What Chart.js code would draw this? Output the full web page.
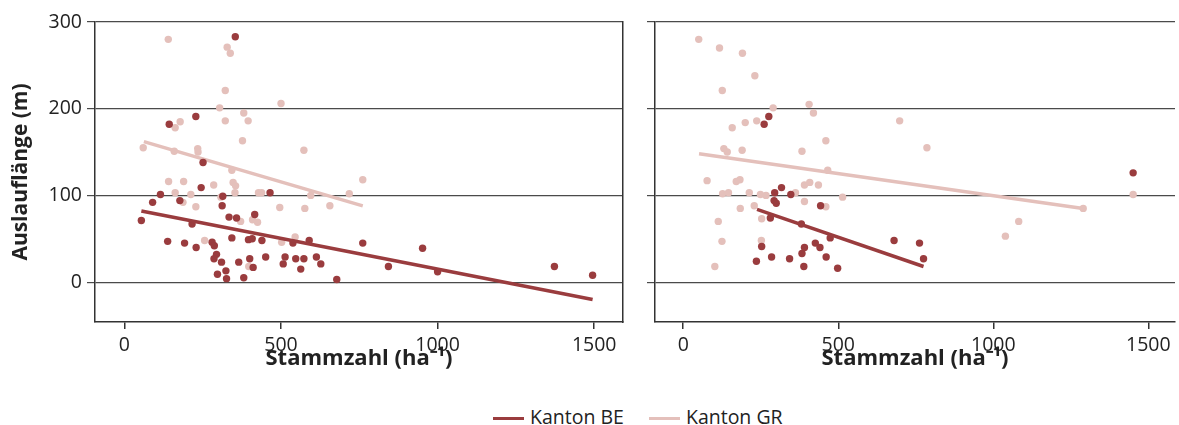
<!DOCTYPE html>
<html>
<head>
<meta charset="utf-8">
<script src="https://cdn.jsdelivr.net/npm/chart.js@4.4.1/dist/chart.umd.min.js"></script>
<style>
  body { margin: 0; background: #fff; font-family: "Open Sans", sans-serif; }
  #wrap { position: relative; width: 1179px; height: 425px; overflow: hidden; }
  #leftBox { position: absolute; left: 0; top: 0; width: 627px; height: 372px; }
  #rightBox { position: absolute; left: 630px; top: 0; width: 549px; height: 372px; }
  #legend { position: absolute; left: 493px; top: 403px; font-size: 19.5px; color: #222; white-space: nowrap; }
  #legend span.sw { display: inline-block; width: 31px; height: 3px; vertical-align: middle; margin-right: 6px; }
  #legend span.item { margin-right: 20px; }
</style>
</head>
<body>
<div id="wrap">
  <div id="leftBox"><canvas id="leftChart"></canvas></div>
  <div id="rightBox"><canvas id="rightChart"></canvas></div>
  <div id="legend">
    <span class="item"><span class="sw" style="background:#9a3c3e"></span>Kanton BE</span>
    <span class="item"><span class="sw" style="background:#e4c0bb"></span>Kanton GR</span>
  </div>
</div>
<script>
// Stammzahl (ha-1) vs Auslauflänge (m)
const leftBE = [
  [54,71],[90,92],[115,101],[138,47],[143,182],[177,94],[192,45],[216,67],[228,191],[229,40],
  [245,109],[251,138],[280,46],[287,42],[294,32],[286,27],[310,23],[297,9],[324,13],[326,4],
  [312,88],[314,99],[334,75],[343,51],[354,283],[358,74],[365,23],[381,5],[396,49],[400,27],
  [408,50],[411,17],[416,78],[439,48],[451,29],[465,103],[507,21],[513,29],[538,45],[547,27],
  [563,15],[573,27],[590,48],[613,29],[627,21],[678,3],[761,45],[843,18],[952,39],[1000,12],
  [1373,18],[1495,8]
];
const leftGR = [
  [60,155],[140,280],[141,116],[159,151],[162,178],[162,103],[178,185],[187,92],[189,116],[212,101],
  [228,87],[234,154],[235,150],[256,48],[285,112],[304,201],[308,98],[322,221],[322,186],[328,271],
  [338,264],[343,129],[347,115],[353,103],[355,111],[371,70],[377,163],[381,195],[395,186],[397,18],
  [409,72],[425,69],[428,103],[438,103],[496,86],[500,206],[502,46],[545,52],[573,152],[576,85],
  [595,100],[656,88],[718,102],[761,118]
];
const rightBE = [
  [236,24],[253,41],[261,182],[276,191],[281,74],[285,29],[293,94],[300,91],[295,103],[317,109],
  [343,27],[347,101],[381,67],[383,33],[389,18],[391,40],[426,45],[441,40],[443,88],[461,29],
  [474,51],[498,16],[680,48],[762,45],[775,27],[1451,126]
];
const rightGR = [
  [50,280],[77,117],[102,18],[113,70],[117,270],[125,47],[126,221],[127,102],[131,154],[142,150],
  [146,103],[158,178],[171,116],[183,118],[184,85],[190,152],[191,264],[200,184],[213,103],[229,88],
  [231,238],[237,186],[249,101],[252,48],[253,73],[267,100],[290,201],[362,103],[383,151],[391,112],
  [391,93],[406,205],[408,115],[420,195],[436,112],[460,163],[460,87],[466,129],[514,98],[698,186],
  [786,155],[1039,53],[1082,70],[1290,85],[1451,101]
];
// regression line end points
const leftBEFit = [[54,82],[1495,-20]];
const leftGRFit = [[62,162],[761,88]];
const rightBEFit = [[238,84],[775,18]];
const rightGRFit = [[51,148],[1290,85]];

const xTicks = [0, 500, 1000, 1500];
const yTicks = [0, 100, 200, 300];

const darkCol = '#9a3c3e';
const lightCol = '#e4c0bb';
const axisCol = '#333';
const tickFont = { family: 'Open Sans', size: 19.5 };
const titleFont = { family: 'Open Sans', size: 21, weight: 'bold' };
const xTitleFont = { family: 'Open Sans', size: 22, weight: 'bold' };

const toXY = arr => arr.map(p => ({ x: p[0], y: p[1] }));

function datasets(be, gr, beFit, grFit) {
  return [
    { type: 'line', label: 'Kanton GR fit', data: toXY(grFit), borderColor: lightCol, borderWidth: 3.5, pointRadius: 0, order: 3 },
    { type: 'scatter', label: 'Kanton GR', data: toXY(gr), backgroundColor: lightCol, borderWidth: 0, pointRadius: 3.7, order: 4 },
    { type: 'line', label: 'Kanton BE fit', data: toXY(beFit), borderColor: darkCol, borderWidth: 3.5, pointRadius: 0, order: 1 },
    { type: 'scatter', label: 'Kanton BE', data: toXY(be), backgroundColor: darkCol, borderWidth: 0, pointRadius: 3.7, order: 2 }
  ];
}

function makeChart(id, be, gr, beFit, grFit, isLeft) {
  const ctx = document.getElementById(id).getContext('2d');
  new Chart(ctx, {
    type: 'scatter',
    data: { datasets: datasets(be, gr, beFit, grFit) },
    options: {
      responsive: false,
      maintainAspectRatio: false,
      animation: false,
      layout: { padding: { top: 22, right: 0, bottom: 0, left: 0 } },
      plugins: { legend: { display: false }, tooltip: { enabled: false } },
      scales: {
        x: {
          type: 'linear',
          min: isLeft ? -94 : -91,
          max: isLeft ? 1592 : 1586,
          afterBuildTicks: s => { s.ticks = xTicks.map(v => ({ value: v })); },
          afterFit: s => { s.height = 50; },
          grid: { drawOnChartArea: false, drawTicks: true, tickLength: 7, color: axisCol, lineWidth: 1.5 },
          border: { display: true, color: axisCol, width: 1.5 },
          ticks: { color: '#222', font: tickFont, padding: 5, maxRotation: 0, callback: v => String(v) },
          title: { display: true, text: 'Stammzahl (ha⁻¹)', color: '#222', font: xTitleFont, padding: { top: 0, bottom: 0 } }
        },
        y: {
          type: 'linear',
          min: -46,
          max: 300,
          afterBuildTicks: s => { s.ticks = yTicks.map(v => ({ value: v })); },
          afterFit: s => { s.width = isLeft ? 95 : 25; },
          grid: { drawOnChartArea: true, drawTicks: true, tickLength: 8, color: '#4a4a4a', lineWidth: 1.2 },
          border: { display: true, color: axisCol, width: 1.5 },
          ticks: { display: isLeft, color: '#222', font: tickFont, padding: 5, callback: v => String(v) },
          title: { display: isLeft, text: 'Auslauflänge (m)', color: '#222', font: titleFont, padding: { top: 8, bottom: 0 } }
        },
        y2: {
          type: 'linear',
          position: 'right',
          display: isLeft,
          afterFit: s => { s.width = 0; },
          grid: { drawOnChartArea: false, drawTicks: false },
          border: { display: true, color: axisCol, width: 1.5 },
          ticks: { display: false }
        }
      }
    }
  });
}

const lc = document.getElementById('leftChart');
lc.width = 627; lc.height = 372;
const rc = document.getElementById('rightChart');
rc.width = 549; rc.height = 372;

makeChart('leftChart', leftBE, leftGR, leftBEFit, leftGRFit, true);
makeChart('rightChart', rightBE, rightGR, rightBEFit, rightGRFit, false);
</script>
</body>
</html>
